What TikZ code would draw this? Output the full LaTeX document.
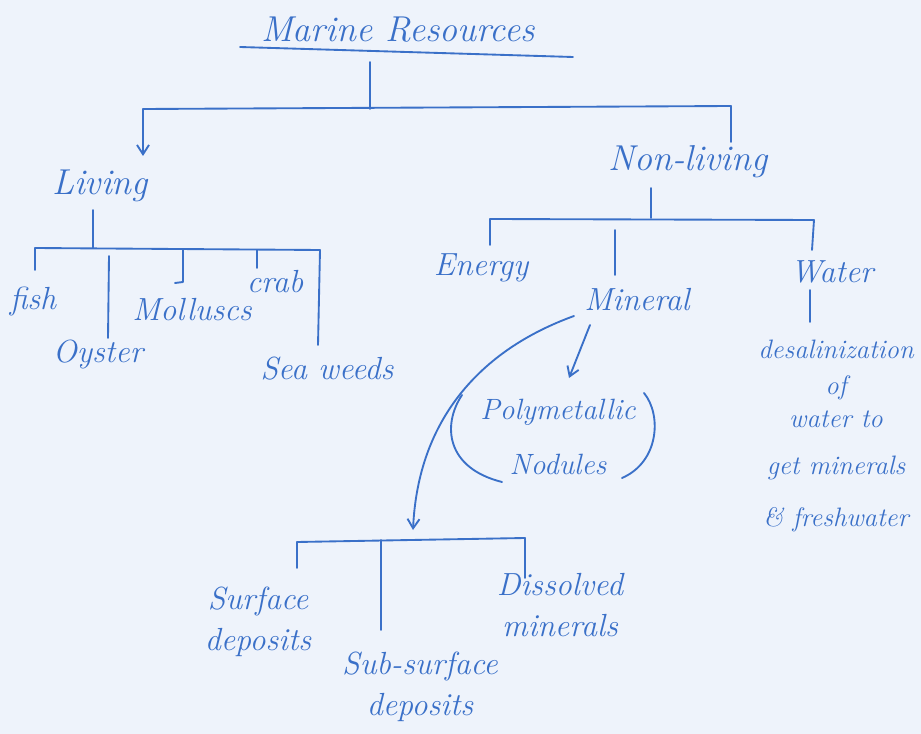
\documentclass[tikz,border=0pt]{standalone}
\usetikzlibrary{arrows.meta}
\definecolor{ink}{HTML}{3A70C8}
\definecolor{paper}{HTML}{EEF3FB}
\begin{document}
\begin{tikzpicture}[x=0.75pt,y=-0.75pt,
  lbl/.style={text=ink,font=\fontsize{24}{27}\selectfont\itshape,inner sep=1pt,align=center},
  big/.style={lbl,font=\fontsize{27}{30}\selectfont\itshape},
  small/.style={lbl,font=\fontsize{20}{23}\selectfont\itshape},
  wire/.style={draw=ink,line width=1.4pt,line cap=round,line join=round},
  arr/.style={wire,-{Straight Barb[length=7pt,width=9pt]}}]
\fill[paper] (0,0) rectangle (921,734);
\useasboundingbox (0,0) rectangle (921,734);
\begin{scope}
\clip (0,0) rectangle (921,734);
% title
\node[big] (title) at (398,30) {Marine Resources};
\coordinate (ulL) at (240,47);
\coordinate (ulR) at (573,57);
\draw[wire] (ulL) -- (ulR);
\coordinate (t1) at (370,62);
\coordinate (t2) at (370,109);
\coordinate (hL) at (143,109);
\coordinate (hR) at (731,106);
\draw[wire] (t1) -- (t2);
\draw[wire] (hL) -- (hR);
% Living
\node[big] (living) at (100,186) {Living};
\draw[arr] (hL) -- (143,156);
\coordinate (nlTop) at (731,142);
\draw[wire] (hR) -- (nlTop);
\node[big] (nonliving) at (688,162) {Non-living};
% living children
\coordinate (lv1) at (93,210);
\coordinate (lv2) at (93,248);
\draw[wire] (lv1) -- (lv2);
\coordinate (lbL) at (35,248);
\coordinate (lbR) at (320,250);
\draw[wire] (lbL) -- (lbR);
\node[lbl] (fish) at (33,302) {fish};
\node[lbl] (oyster) at (98,355) {Oyster};
\node[lbl] (mollusc) at (192,310) {Molluscs};
\node[lbl] (crab) at (275,282) {crab};
\node[lbl] (weeds) at (327,369) {Sea weeds};
\draw[wire] (lbL) -- (35,270);
\draw[wire] (109,256) -- (108,338);
\draw[wire] (183,250) -- (183,282) -- (175,283);
\draw[wire] (257,250) -- (257,268);
\draw[wire] (lbR) -- (318,345);
% non-living children
\coordinate (nv1) at (651,188);
\coordinate (nv2) at (651,218);
\draw[wire] (nv1) -- (nv2);
\coordinate (nbL) at (490,219);
\coordinate (nbR) at (814,220);
\draw[wire] (nbL) -- (nbR);
\node[lbl] (energy) at (481,268) {Energy};
\node[lbl] (mineral) at (637,300) {Mineral};
\node[lbl] (water) at (832,272) {Water};
\draw[wire] (nbL) -- (490,245);
\draw[wire] (615,230) -- (615,275);
\draw[wire] (nbR) -- (812,250);
\draw[wire] (810,290) -- (810,322);
\node[small,anchor=north] (desal) at (836,338) {desalinization\\[4pt]of\\[2pt]water to\\[12pt]get minerals\\[16pt]\& freshwater};
% mineral children
\node[small,font=\fontsize{22}{25}\selectfont\itshape] (poly) at (558,437) {Polymetallic\\[16pt]Nodules};
\draw[wire] (462,395) .. controls (442,425) and (446,468) .. (502,482);
\draw[wire] (644,393) .. controls (662,415) and (659,462) .. (622,478);
\draw[arr] (590,325) -- (569,378);
\draw[arr] (574,316) .. controls (480,350) and (418,420) .. (413,530);
\coordinate (bbL) at (297,542);
\coordinate (bbR) at (525,538);
\draw[wire] (bbL) -- (bbR);
\draw[wire] (bbL) -- (297,568);
\draw[wire] (381,540) -- (381,630);
\draw[wire] (bbR) -- (525,578);
\node[lbl] (surface) at (258,622) {Surface\\[4pt]deposits};
\node[lbl] (subsurface) at (420,687) {Sub-surface\\[4pt]deposits};
\node[lbl] (dissolved) at (560,605) {Dissolved\\[4pt]minerals};
\end{scope}
\end{tikzpicture}
\end{document}
